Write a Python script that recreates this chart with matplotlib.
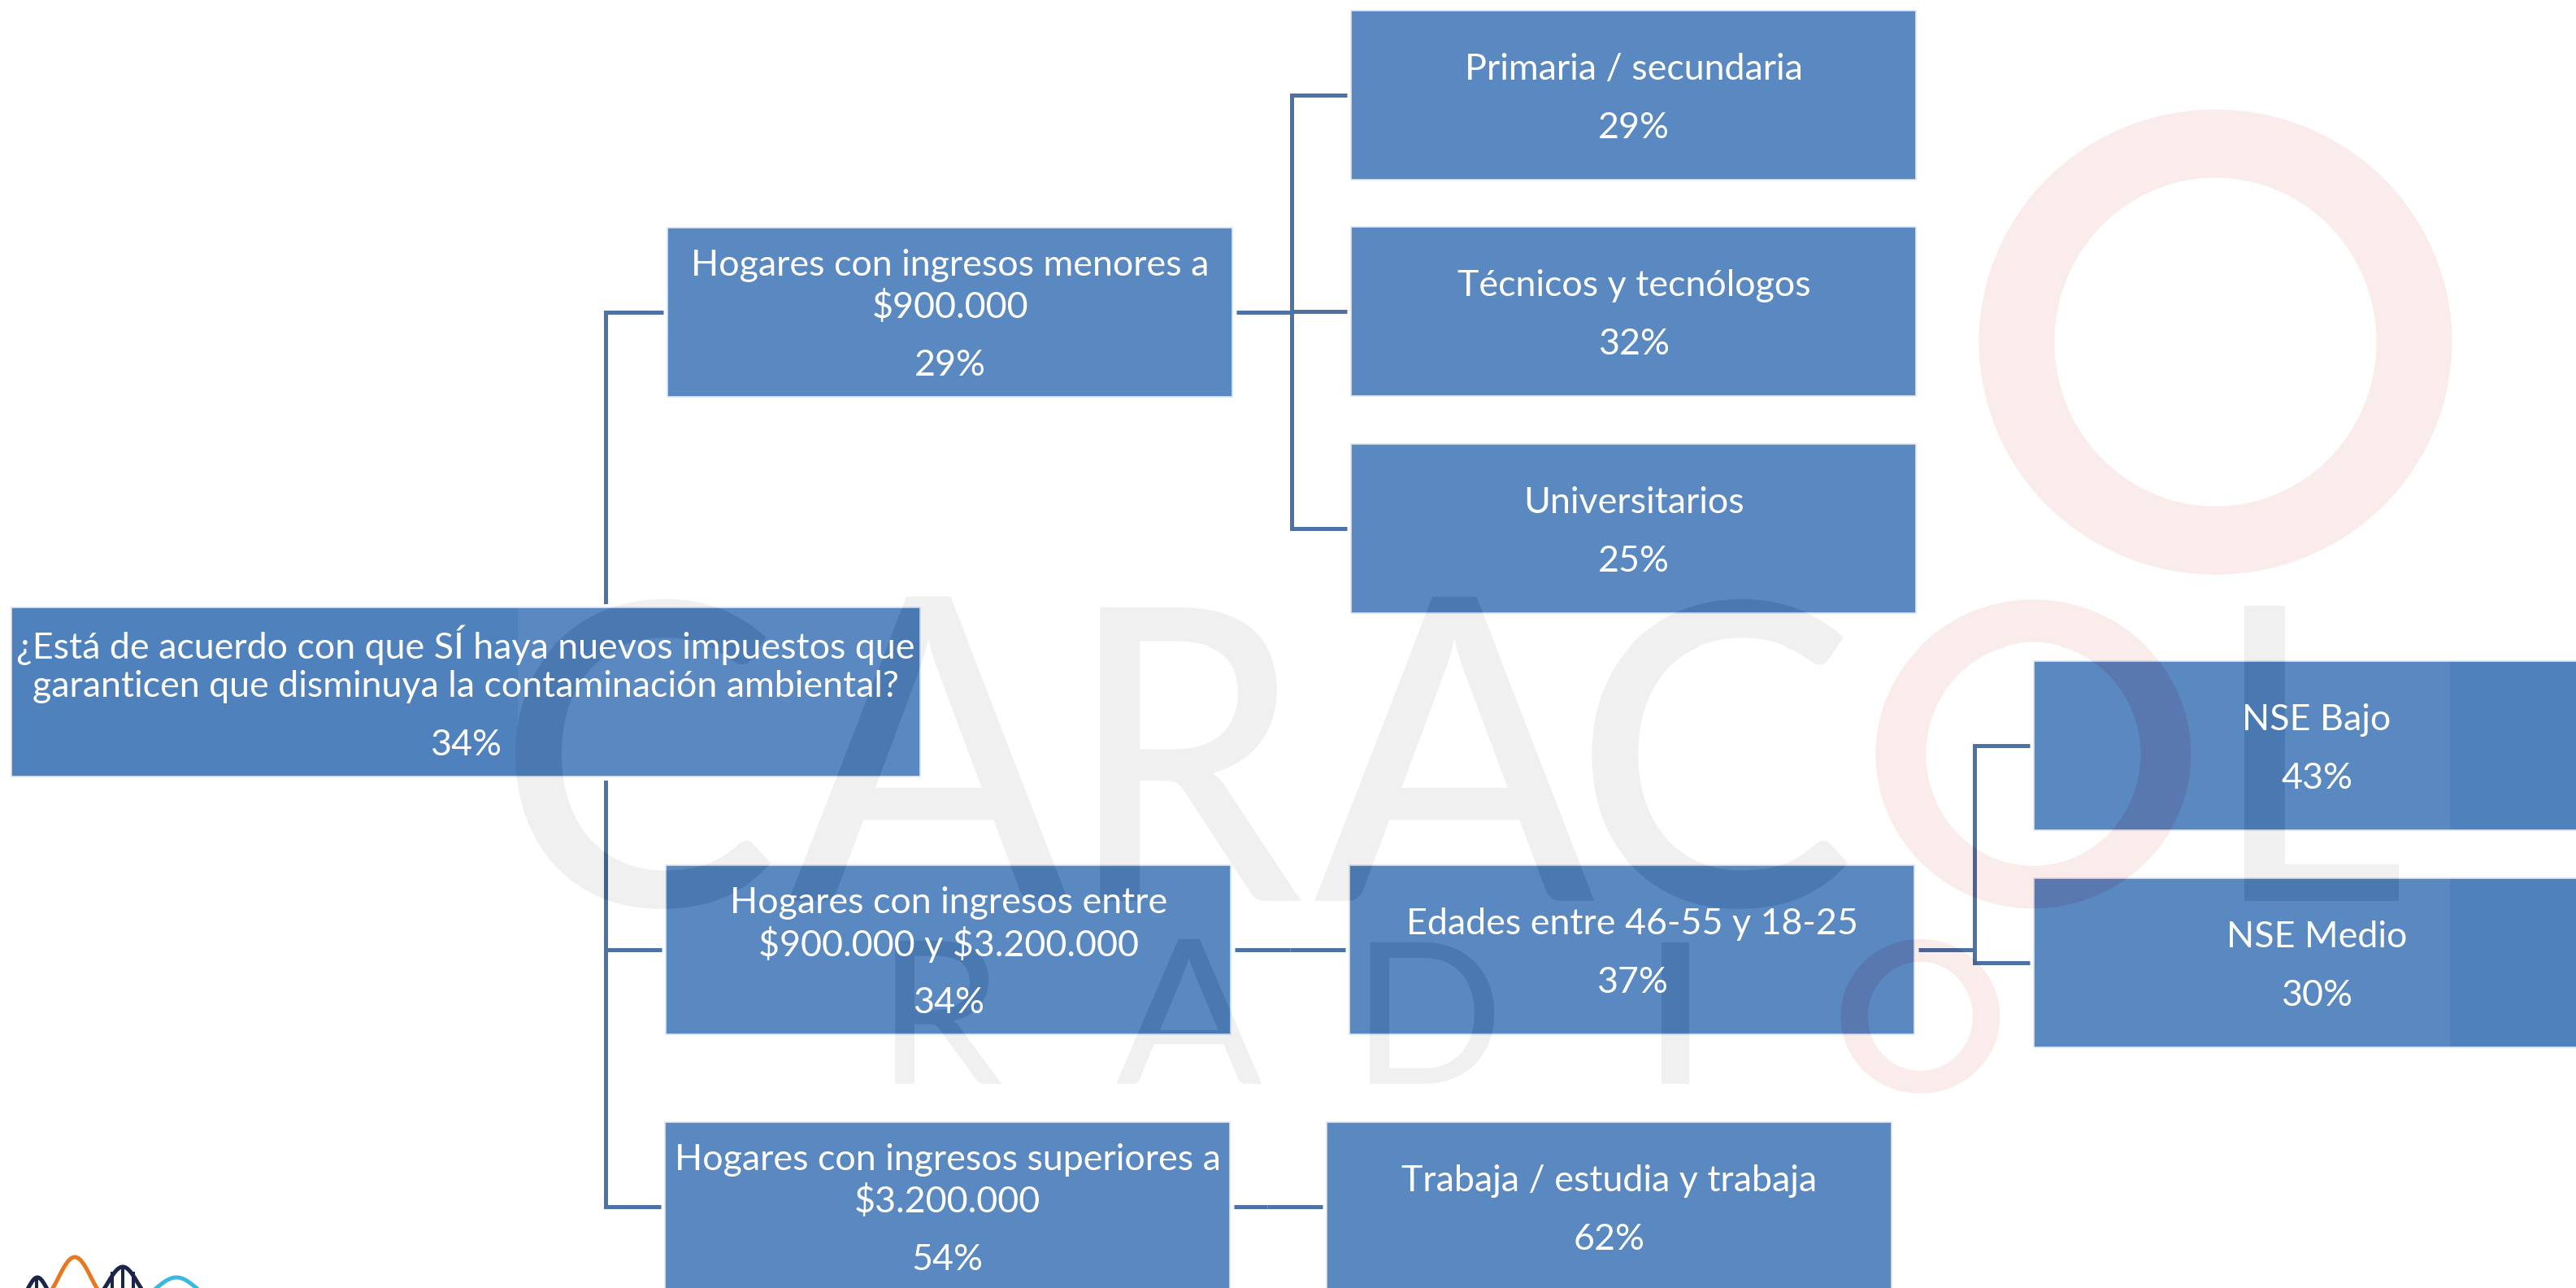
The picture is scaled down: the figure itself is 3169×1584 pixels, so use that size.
import numpy as np
import matplotlib
matplotlib.use("Agg")
import matplotlib.pyplot as plt
from matplotlib.patches import Rectangle, PathPatch, Ellipse
from matplotlib.textpath import TextPath
from matplotlib.font_manager import FontProperties
import matplotlib.transforms as mtransforms

# ---------------- data ----------------
node_ids = ["root", "menores", "entre", "superiores",
            "primaria", "tecnicos", "universitarios",
            "edades", "trabaja", "nse_bajo", "nse_medio"]
node_labels = [
    "¿Está de acuerdo con que SÍ haya nuevos impuestos que\ngaranticen que disminuya la contaminación ambiental?",
    "Hogares con ingresos menores a\n$900.000",
    "Hogares con ingresos entre\n$900.000 y $3.200.000",
    "Hogares con ingresos superiores a\n$3.200.000",
    "Primaria / secundaria",
    "Técnicos y tecnólogos",
    "Universitarios",
    "Edades entre 46-55 y 18-25",
    "Trabaja / estudia y trabaja",
    "NSE Bajo",
    "NSE Medio",
]
node_values = [34, 29, 34, 54, 29, 32, 25, 37, 62, 43, 30]
node_parents = [None, "root", "root", "root",
                "menores", "menores", "menores",
                "entre", "superiores", "edades", "edades"]

# ---------------- layout (pixels, y downward) ----------------
W, H = 3169, 1584
DPI = 200
box_left = {"root": 14, "menores": 821, "entre": 819, "superiores": 818,
            "primaria": 1662, "tecnicos": 1662, "universitarios": 1662,
            "edades": 1660, "trabaja": 1632, "nse_bajo": 2502, "nse_medio": 2502}
box_top = {"root": 747, "menores": 280, "entre": 1064, "superiores": 1380,
           "primaria": 13, "tecnicos": 279, "universitarios": 546,
           "edades": 1064, "trabaja": 1380, "nse_bajo": 813, "nse_medio": 1080}
box_width = {"root": 1118}
DEFAULT_W = 695
BOX_H = 208
GAP = 5
TRUNK_OFFSET = 73

BOX_COLOR = "#4F81BD"
LINE_COLOR = "#41699F"
FONT = ["Lato", "DejaVu Sans"]
FS = 16.1
LINE_STEP = 51
PCT_GAP = 72

fig = plt.figure(figsize=((W + 0.5) / DPI, (H + 0.5) / DPI), dpi=DPI, facecolor="white")
ax = fig.add_axes([0, 0, 1, 1])
ax.set_xlim(0, W)
ax.set_ylim(H, 0)
ax.set_axis_off()

geo = {}
for nid in node_ids:
    x0 = box_left[nid]
    w = box_width.get(nid, DEFAULT_W)
    y0 = box_top[nid]
    geo[nid] = (x0, y0, w, BOX_H)

def center(nid):
    x0, y0, w, h = geo[nid]
    return x0 + w / 2, y0 + h / 2

# ---------------- connectors ----------------
children = {}
for nid, par in zip(node_ids, node_parents):
    if par is not None:
        children.setdefault(par, []).append(nid)

lw = 5 * 72 / DPI
for par, kids in children.items():
    px0, py0, pw, ph = geo[par]
    pcx, pcy = center(par)
    kid_left = min(geo[k][0] for k in kids)
    trunk = kid_left - TRUNK_OFFSET
    kid_ys = [center(k)[1] for k in kids]
    if trunk < px0 + pw:
        top_kids = [y for y in kid_ys if y < py0]
        bot_kids = [y for y in kid_ys if y > py0 + ph]
        if top_kids:
            ax.plot([trunk, trunk], [py0 - 7, min(top_kids)], color=LINE_COLOR, lw=lw,
                    solid_capstyle="projecting", zorder=1)
        if bot_kids:
            ax.plot([trunk, trunk], [py0 + ph + 7, max(bot_kids)], color=LINE_COLOR, lw=lw,
                    solid_capstyle="projecting", zorder=1)
    else:
        ys = kid_ys + [pcy]
        ax.plot([px0 + pw + GAP, trunk], [pcy, pcy], color=LINE_COLOR, lw=lw,
                solid_capstyle="butt", zorder=1)
        if max(ys) - min(ys) > 1:
            ax.plot([trunk, trunk], [min(ys), max(ys)], color=LINE_COLOR, lw=lw,
                    solid_capstyle="projecting", zorder=1)
    for k, ky in zip(kids, kid_ys):
        ax.plot([trunk, geo[k][0] - GAP], [ky, ky], color=LINE_COLOR, lw=lw,
                solid_capstyle="butt", zorder=1)

# ---------------- boxes + text ----------------
for nid, label, val in zip(node_ids, node_labels, node_values):
    x0, y0, w, h = geo[nid]
    ax.add_patch(Rectangle((x0, y0), w, h, facecolor=BOX_COLOR, edgecolor="#DCE6F2",
                           linewidth=0.6, zorder=2))
    cx, cy = center(nid)
    lines = label.split("\n")
    n = len(lines)
    ystart = cy - ((n - 1) * LINE_STEP + PCT_GAP) / 2
    for i, ln in enumerate(lines):
        ax.text(cx, ystart + i * LINE_STEP, ln, ha="center", va="center_baseline",
                color="white", fontsize=FS, family=FONT, parse_math=False, zorder=6)
    ax.text(cx, ystart + (n - 1) * LINE_STEP + PCT_GAP, f"{val}%", ha="center",
            va="center_baseline", color="white", fontsize=FS, family=FONT,
            parse_math=False, zorder=6)

# ---------------- watermark (CARACOL RADIO) ----------------
def glyph_path(ch, x0, x1, y0, y1, weight="bold"):
    tp = TextPath((0, 0), ch, size=100, prop=FontProperties(family="Lato", weight=weight))
    ext = tp.get_extents()
    sx = (x1 - x0) / ext.width
    sy = (y1 - y0) / ext.height
    tr = (mtransforms.Affine2D().translate(-ext.x0, -ext.y1)
          .scale(sx, -sy).translate(x0, y0))
    return tr.transform_path(tp)

BIG_W = "medium"
gray_glyphs = [
    ("C", 634, 948, 738, 1118, BIG_W),
    ("A", 970, 1314, 735, 1108, BIG_W),
    ("R", 1353, 1600, 748, 1108, BIG_W),
    ("A", 1616, 1960, 735, 1108, BIG_W),
    ("C", 1957, 2272, 738, 1118, BIG_W),
    ("L", 2760, 2950, 746, 1108, BIG_W),
    ("R", 1101, 1232, 1157, 1333, "normal"),
    ("A", 1373, 1552, 1155, 1333, "normal"),
    ("D", 1684, 1837, 1159, 1333, "normal"),
    ("I", 2043, 2077, 1159, 1333, "normal"),
]
pink_rings = [  # cx, cy, outer w, outer h, inner w, inner h
    (2724, 422, 582, 572, 396, 404),
    (2500, 928, 388, 379, 264, 274),
    (2361, 1250, 196, 190, 129, 134),
]

fig2 = plt.figure(figsize=((W + 0.5) / DPI, (H + 0.5) / DPI), dpi=DPI, facecolor="black")
ax2 = fig2.add_axes([0, 0, 1, 1])
ax2.set_xlim(0, W)
ax2.set_ylim(H, 0)
ax2.set_axis_off()
for ch, gx0, gx1, gy0, gy1, wt in gray_glyphs:
    ax2.add_patch(PathPatch(glyph_path(ch, gx0, gx1, gy0, gy1, wt), facecolor=(1, 0, 0),
                            edgecolor="none"))
for cxr, cyr, ow, oh, iw, ih in pink_rings:
    ax2.add_patch(Ellipse((cxr, cyr), ow, oh, facecolor=(0, 1, 0), edgecolor="none"))
    ax2.add_patch(Ellipse((cxr, cyr), iw, ih, facecolor="black", edgecolor="none"))
fig2.canvas.draw()
buf = np.asarray(fig2.canvas.buffer_rgba())[..., :3].astype(float) / 255.0
plt.close(fig2)

m1 = buf[..., 0]
m2 = buf[..., 1]
hh, ww = m1.shape
xs = (np.arange(ww) + 0.5) * W / ww
inrect = ((xs >= 637) & (xs <= 3013)).astype(float)[None, :] * np.ones((hh, 1))
ab = 0.07 * inrect
mb = np.clip(1 - m1 - m2, 0, 1)
a_g, a_p = 0.06, 0.075
c_p = np.array([0.80, 0.05, 0.05])
A = mb * ab + m1 * a_g + m2 * a_p
P = (mb * ab)[..., None] * np.ones(3) + (m2 * a_p)[..., None] * c_p
C = P / np.maximum(A[..., None], 1e-9)
rgba = np.dstack([np.clip(C, 0, 1), np.clip(A, 0, 1)])
ax.imshow(rgba, extent=(0, W, H, 0), interpolation="nearest", zorder=5, aspect="auto")
ax.set_xlim(0, W)
ax.set_ylim(H, 0)

# ---------------- logo (bottom-left) ----------------
def bell(xc, hw, peak, base=1596, n=80):
    x = np.linspace(xc - hw, xc + hw, n)
    y = base - (base - peak) * (0.5 + 0.5 * np.cos(np.pi * (x - xc) / hw))
    return x, y

llw = 5 * 72 / DPI
for xc, hw, pk, col in [(46, 22, 1571, "#1B2547"), (92, 40, 1546, "#E87722"),
                        (151, 36, 1558, "#1B2547"), (217, 48, 1571, "#3BB8E0")]:
    bx, by = bell(xc, hw, pk)
    ax.plot(bx, by, color=col, lw=llw, zorder=7, solid_capstyle="round")
for xv, pk in [(45, 1573), (138, 1566), (151, 1560), (164, 1566)]:
    ax.plot([xv, xv], [pk, H + 5], color="#1B2547", lw=llw * 0.8, zorder=7)

fig.savefig("out.png", dpi=DPI, facecolor="white")
